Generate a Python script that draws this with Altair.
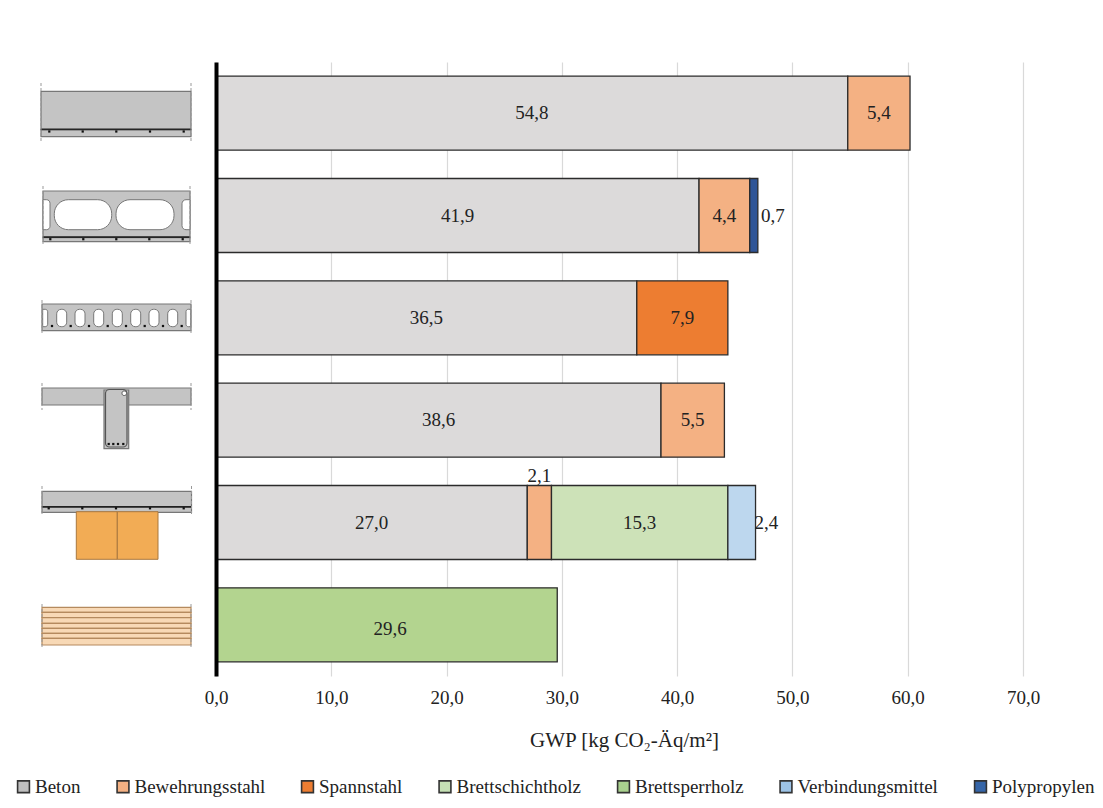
import altair as alt
import pandas as pd

rows = ["Vollbetondecke", "Spannbeton-Hohldiele", "Hohlplatte", "Plattenbalken", "Holz-Beton-Verbund", "Brettsperrholzdecke"]
materials = ["Beton", "Bewehrungsstahl", "Spannstahl", "Brettschichtholz", "Brettsperrholz", "Verbindungsmittel", "Polypropylen"]
bar_colors = ["#DCDADA", "#F4B183", "#ED7D31", "#CDE2B8", "#B3D48F", "#BDD7EE", "#2F5597"]
legend_colors = ["#BFBFBF", "#F4B183", "#ED7D31", "#C5E0B4", "#A9D18E", "#9DC3E6", "#3565A8"]

beton = [54.8, 41.9, 36.5, 38.6, 27.0, 0]
bewehrung = [5.4, 4.4, 0, 5.5, 2.1, 0]
spannstahl = [0, 0, 7.9, 0, 0, 0]
bsh = [0, 0, 0, 0, 15.3, 0]
bsp = [0, 0, 0, 0, 0, 29.6]
verbindung = [0, 0, 0, 0, 2.4, 0]
polypropylen = [0, 0.7, 0, 0, 0, 0]
series = [beton, bewehrung, spannstahl, bsh, bsp, verbindung, polypropylen]

FONT = "Liberation Serif"
records = []
for ri, row in enumerate(rows):
    cum = 0.0
    for mi, mat in enumerate(materials):
        v = series[mi][ri]
        if v == 0:
            continue
        records.append({"row": row, "material": mat, "start": round(cum, 2), "end": round(cum + v, 2),
                        "label": f"{v:.1f}".replace(".", ","), "lx": cum + v / 2})
        cum += v
df = pd.DataFrame(records)
# labels of the thin segments sit beside the bar
df.loc[(df.material == "Polypropylen"), "lx"] = 48.3
df.loc[(df.material == "Verbindungsmittel"), "lx"] = 47.75
df.loc[(df.material == "Brettsperrholz"), "lx"] = 15.1
is_above = (df.row == rows[4]) & (df.material == "Bewehrungsstahl")
is_low = df.material == "Brettsperrholz"

xs = alt.Scale(domain=[0, 70], nice=False, zero=False)
ys = alt.Scale(domain=rows, paddingInner=0.277, paddingOuter=0.1385)
Y = alt.Y("row:N", scale=ys, sort=rows, axis=None)

bars = alt.Chart(df).mark_bar(stroke="#2b2b2b", strokeWidth=1.3).encode(
    x=alt.X("start:Q", scale=xs, title="GWP [kg CO₂-Äq/m²]",
            axis=alt.Axis(values=[0, 10, 20, 30, 40, 50, 60, 70], domain=False, ticks=False, grid=True,
                          gridColor="#D9D9D9", gridWidth=1.2, labelFont=FONT, labelFontSize=19, labelColor="#222",
                          labelPadding=12, labelFlush=False, labelExpr="replace(format(datum.value,'.1f'),'.',',')",
                          titleFont=FONT, titleFontSize=21, titleFontWeight="normal", titleColor="#222",
                          titlePadding=22, titleX=408)),
    x2="end:Q",
    y=alt.Y("row:N", scale=ys, sort=rows, title=None,
            axis=alt.Axis(labels=False, ticks=False, grid=False, domainWidth=4, domainColor="#000", zindex=1)),
    color=alt.Color("material:N", scale=alt.Scale(domain=materials, range=bar_colors), legend=None),
)

labels = alt.Chart(df[~is_above & ~is_low]).mark_text(font=FONT, fontSize=19, color="#222").encode(
    x=alt.X("lx:Q", scale=xs, axis=None), y=Y, text="label:N")
label_up = alt.Chart(df[is_above]).mark_text(font=FONT, fontSize=19, color="#222", dy=-47).encode(
    x=alt.X("lx:Q", scale=xs, axis=None), y=Y, text="label:N")
label_low = alt.Chart(df[is_low]).mark_text(font=FONT, fontSize=19, color="#222", dy=4).encode(
    x=alt.X("lx:Q", scale=xs, axis=None), y=Y, text="label:N")

legend_layer = alt.Chart(pd.DataFrame({"material": materials, "k": list(range(7))})).transform_filter(
    "datum.k < 0").mark_square(stroke="#333", strokeWidth=1.6, opacity=1).encode(
    x=alt.X("k:Q", scale=xs, axis=None),
    y=alt.Y("k:Q", axis=None),
    color=alt.Color("material:N", scale=alt.Scale(domain=materials, range=legend_colors),
                    legend=alt.Legend(title=None, orient="none", legendX=-202, legendY=715, direction="horizontal",
                                      columns=7, columnPadding=32.5, symbolType="square", symbolSize=140,
                                      symbolOpacity=1, labelFont=FONT, labelFontSize=19, labelColor="#222",
                                      labelOffset=2, symbolStrokeWidth=1.6, symbolStrokeColor="#333")),
)

# cross-section sketches, in the picture's own units
GREY, EDGE, WHITE = "#C4C4C4", "#777777", "#FFFFFF"
ORANGE, ORANGE_EDGE = "#F2AC55", "#A9783F"
TIMBER, TIMBER_EDGE = "#F8D9B6", "#B58A5E"
ix = alt.Scale(domain=[216, 1023], nice=False, zero=False)
iy = alt.Scale(domain=[62, 676], nice=False, zero=False, reverse=True)


def boxes(items, fill, stroke=EDGE, sw=1.0, **kw):
    d = pd.DataFrame(items, columns=["x0", "x1", "y0", "y1"])
    return alt.Chart(d).mark_rect(fill=fill, stroke=stroke, strokeWidth=sw, **kw).encode(
        x=alt.X("x0:Q", scale=ix, axis=None), x2="x1:Q",
        y=alt.Y("y0:Q", scale=iy, axis=None), y2="y1:Q")


def dots(xv, yv):
    d = pd.DataFrame({"x": xv, "y": [yv] * len(xv)})
    return alt.Chart(d).mark_square(size=5, color="#111", opacity=1).encode(
        x=alt.X("x:Q", scale=ix, axis=None), y=alt.Y("y:Q", scale=iy, axis=None))


def edges(xv, y0, y1):
    d = pd.DataFrame({"x": xv, "y0": [y0] * len(xv), "y1": [y1] * len(xv)})
    return alt.Chart(d).mark_rule(color="#999", strokeWidth=1, strokeDash=[3, 2]).encode(
        x=alt.X("x:Q", scale=ix, axis=None), y=alt.Y("y0:Q", scale=iy, axis=None), y2="y1:Q")


icons = [
    # solid slab
    boxes([[41, 191, 91.3, 136.7]], GREY, sw=1.2),
    boxes([[41, 191, 129, 129.8]], "#222", stroke="#222"),
    dots([49.3, 82.7, 116.3, 150, 183.7], 131.5),
    edges([41, 191], 83, 143),
    # wide hollow core
    boxes([[43, 190, 191, 241.7]], GREY, sw=1.2),
    boxes([[54.3, 111.7, 199.7, 229.7], [116, 174, 199.7, 229.7]], WHITE, cornerRadius=14),
    boxes([[43, 50, 199.7, 229.7]], WHITE, cornerRadiusTopRight=7, cornerRadiusBottomRight=7),
    boxes([[182, 190, 199.7, 229.7]], WHITE, cornerRadiusTopLeft=7, cornerRadiusBottomLeft=7),
    boxes([[43, 190, 236.8, 237.6]], "#222", stroke="#222"),
    dots([50.3, 83.3, 116.3, 149.3, 182.7], 239.2),
    edges([43, 190], 186, 246),
    # small hollow core
    boxes([[42, 191, 304, 330.7]], GREY, sw=1.2),
    boxes([[c - 5, c + 5, 309.3, 326.7] for c in [61.7, 80, 98.7, 117.3, 135.7, 154, 172.7]], WHITE, cornerRadius=4.5),
    boxes([[42.7, 47.7, 309.3, 326.7]], WHITE, cornerRadiusTopRight=4, cornerRadiusBottomRight=4),
    boxes([[186, 190.7, 309.3, 326.7]], WHITE, cornerRadiusTopLeft=4, cornerRadiusBottomLeft=4),
    dots([52, 70.7, 89, 107.7, 126, 144.7, 163, 181.7], 326),
    edges([42, 191], 300, 334),
    # T-beam
    boxes([[42, 191, 388, 405]], GREY, sw=1.2),
    boxes([[104, 128.7, 390, 448.7]], GREY, sw=1.2),
    boxes([[105.5, 127, 389.5, 447]], GREY, stroke="#555", sw=1.2, cornerRadius=4),
    boxes([[122, 126.5, 391, 395.5]], WHITE, stroke="#555", cornerRadius=2),
    dots([108.7, 113.3, 118, 123.3], 444),
    edges([42, 191], 383, 410),
    # timber-concrete composite
    boxes([[42, 191.5, 491.3, 512.3]], GREY, sw=1.2),
    boxes([[42, 191.5, 506.5, 507.2]], "#222", stroke="#222"),
    dots([48.7, 82.3, 116, 150, 183.7], 508.3),
    boxes([[76.3, 117.3, 511.7, 559.3], [117.3, 158, 511.7, 559.3]], ORANGE, stroke=ORANGE_EDGE, sw=1.0),
    edges([42, 191.5], 486, 516),
    # cross-laminated timber
    boxes([[42, 191, a, b] for a, b in [(607.3, 612.3), (612.3, 617.7), (617.7, 623.3), (623.3, 628.3),
                                        (628.3, 633.3), (633.3, 638.3), (638.3, 645)]],
          TIMBER, stroke=TIMBER_EDGE, sw=1.2),
    edges([42, 191], 604, 649),
]

chart = alt.layer(bars, labels, label_up, label_low, legend_layer, *icons).resolve_scale(
    x="independent", y="independent", color="independent"
).properties(
    width=807, height=614,
    autosize=alt.AutoSizeParams(type="none"),
    padding={"left": 208, "top": 54, "right": 72, "bottom": 124},
    background="white",
).configure_view(stroke=None)

chart.save("out.html", embed_options={"renderer": "svg", "actions": False})
